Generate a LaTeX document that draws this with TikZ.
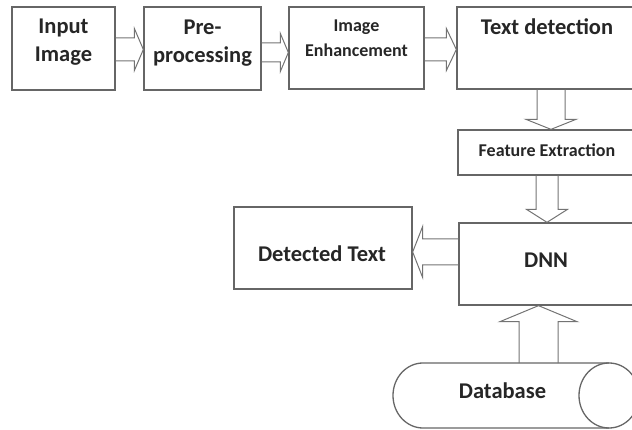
\documentclass[tikz,border=0pt]{standalone}
\usepackage{fontspec}
\setmainfont{Carlito}
\usetikzlibrary{calc}
\tikzset{
 box/.style={draw=black!60, line width=1.3pt, inner sep=0pt},
 conn/.style={draw=black!55, line width=1pt, line join=miter},
 txt/.style={font=\bfseries\fontsize{22.5}{28}\selectfont, text=black!85, align=center, inner sep=0pt},
 smalltxt/.style={font=\bfseries\fontsize{18}{25}\selectfont},
}
% #1 start, #2 tip, #3 shaft half width, #4 head half width, #5 head length
\newcommand\blockarrow[5]{%
 \path (#1) coordinate (bs) (#2) coordinate (bt);
 \path ($(bt)!#5!(bs)$) coordinate (hb);
 \draw[conn] ($(bs)!#3!90:(bt)$) -- ($(hb)!#3!90:(bt)$) -- ($(hb)!#4!90:(bt)$) -- (bt)
   -- ($(hb)!#4!-90:(bt)$) -- ($(hb)!#3!-90:(bt)$) -- ($(bs)!#3!-90:(bt)$);}
\begin{document}
\begin{tikzpicture}[x=1pt,y=-1pt]
\useasboundingbox (0,0) rectangle (632,430);
\clip (0,0) rectangle (632,430);
% boxes
\node[box, minimum width=103pt, minimum height=83pt] (in) at (63.5,48.5) {};
\node[box, minimum width=117pt, minimum height=83pt] (pre) at (202.5,48.5) {};
\node[box, minimum width=135pt, minimum height=82pt] (ie) at (356.5,48) {};
\node[box, minimum width=180pt, minimum height=82pt] (td) at (547,48) {};
\node[box, minimum width=179pt, minimum height=45pt] (fe) at (547.5,152.5) {};
\node[box, minimum width=178pt, minimum height=82pt] (dnn) at (548,264) {};
\node[box, minimum width=178pt, minimum height=82pt] (dt) at (323,248) {};
% database cylinder
\draw[box] (609,363) -- (423,363) arc[start angle=90, end angle=270, x radius=30pt, y radius=32.5pt] -- (609,428);
\draw[box] (609,395.5) ellipse [x radius=30pt, y radius=32.5pt];
\coordinate (dbtop) at (538.5,363);
% texts
\node[txt] (intx) at (63.5,42) {Input\\Image};
\node[txt] (pretx) at (202.5,43) {Pre-\\processing};
\node[txt, smalltxt] (ietx) at (356.5,38) {Image\\Enhancement};
\node[txt] (tdtx) at (547,27) {Text detection};
\node[txt, smalltxt] (fetx) at (547,150) {Feature Extraction};
\node[txt] (dnntx) at (546,260) {DNN};
\node[txt] (dttx) at (322,254) {Detected Text};
\node[txt] (dbtx) at (502.5,391) {Database};
% arrows
\blockarrow{in.east|-0,49.5}{pre.west|-0,49.5}{11.5pt}{21pt}{9pt}
\blockarrow{pre.east|-0,52.5}{ie.west|-0,52.5}{9.5pt}{19pt}{8pt}
\blockarrow{ie.east|-0,49.5}{td.west|-0,49.5}{11.5pt}{21pt}{10pt}
\blockarrow{td.south-|551,0}{fe.north-|551,0}{14pt}{25pt}{10pt}
\blockarrow{fe.south-|547,0}{dnn.north-|547,0}{11pt}{20.5pt}{13pt}
\blockarrow{dnn.west|-0,252}{dt.east|-0,252}{13pt}{25.5pt}{10pt}
\blockarrow{dbtop}{dnn.south-|538.5,0}{19.5pt}{38.5pt}{16pt}
\end{tikzpicture}
\end{document}
